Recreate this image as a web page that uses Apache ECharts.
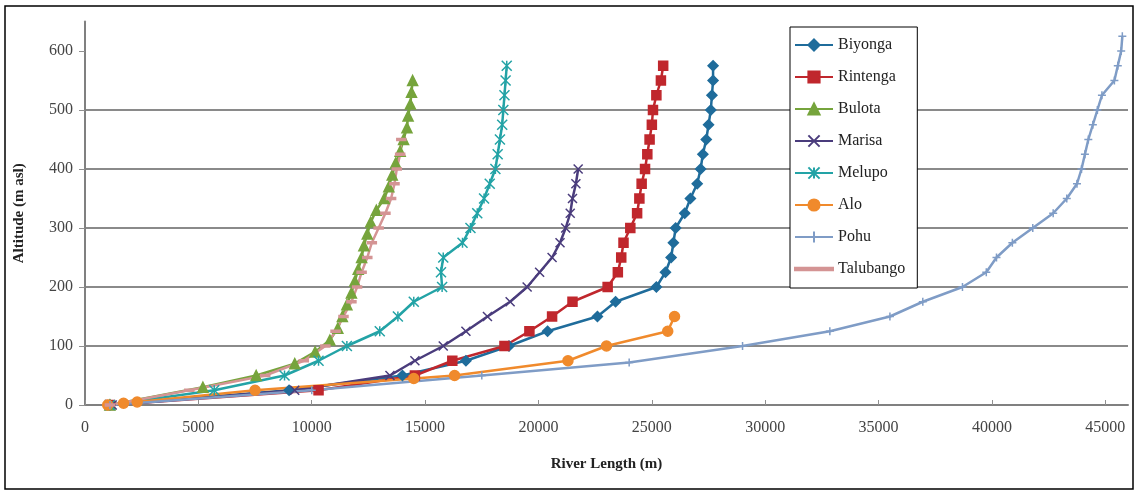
<!DOCTYPE html>
<html>
<head>
<meta charset="utf-8">
<script src="https://cdn.jsdelivr.net/npm/echarts@6/dist/echarts.min.js"></script>
<style>
html,body{margin:0;padding:0;background:#fff;}
#chart{width:1137px;height:493px;}
</style>
</head>
<body>
<div id="chart"></div>
<script>
// ---- data: [river length (m), altitude (m asl)] ----
const seriesNames = ['Biyonga','Rintenga','Bulota','Marisa','Melupo','Alo','Pohu','Talubango'];
const xTicks = [0,5000,10000,15000,20000,25000,30000,35000,40000,45000];
const yTicks = [0,100,200,300,400,500,600];

const biyonga = [[1100,0],[9000,25],[14000,50],[16800,75],[18700,100],[20400,125],[22600,150],[23400,175],[25200,200],[25600,225],[25850,250],[25950,275],[26050,300],[26450,325],[26700,350],[27000,375],[27150,400],[27250,425],[27400,450],[27500,475],[27600,500],[27650,525],[27700,550],[27700,575]];
const rintenga = [[1100,0],[10300,25],[14550,50],[16200,75],[18500,100],[19600,125],[20600,150],[21500,175],[23050,200],[23500,225],[23650,250],[23750,275],[24050,300],[24350,325],[24450,350],[24550,375],[24700,400],[24800,425],[24900,450],[25000,475],[25050,500],[25200,525],[25400,550],[25500,575]];
const bulota = [[1100,0],[5200,30],[7550,50],[9250,70],[10150,90],[10800,110],[11150,130],[11350,150],[11550,170],[11750,190],[11900,210],[12050,230],[12200,250],[12300,270],[12450,290],[12600,310],[12850,330],[13200,350],[13400,370],[13550,390],[13700,410],[13900,430],[14050,450],[14200,470],[14250,490],[14350,510],[14400,530],[14450,550]];
const marisa = [[1200,0],[9250,25],[13450,50],[14550,75],[15800,100],[16800,125],[17750,150],[18750,175],[19500,200],[20050,225],[20600,250],[20950,275],[21200,300],[21400,325],[21500,350],[21650,375],[21750,400]];
const melupo = [[1100,0],[5700,25],[8800,50],[10300,75],[11550,100],[13000,125],[13800,150],[14500,175],[15750,200],[15700,225],[15800,250],[16650,275],[17000,300],[17300,325],[17600,350],[17850,375],[18100,400],[18200,425],[18300,450],[18400,475],[18450,500],[18500,525],[18550,550],[18600,575]];
const alo = [[1000,0],[1700,3],[2300,5],[7500,25],[14500,45],[16300,50],[21300,75],[23000,100],[25700,125],[26000,150]];
const pohu = [[1100,0],[10000,25],[17500,50],[24000,72],[29000,100],[32850,125],[35500,150],[36950,175],[38700,200],[39750,225],[40200,250],[40900,275],[41800,300],[42700,325],[43300,350],[43750,375],[43950,400],[44100,425],[44250,450],[44450,475],[44650,500],[44850,525],[45400,550],[45550,575],[45700,600],[45750,625]];
const talubango = [[1100,0],[4600,25],[7950,50],[9650,75],[10600,100],[11050,125],[11400,150],[11750,175],[12000,200],[12200,225],[12450,250],[12650,275],[12950,300],[13250,325],[13500,350],[13650,375],[13750,400],[13900,425],[13950,450]];

const seriesData = [biyonga, rintenga, bulota, marisa, melupo, alo, pohu, talubango];
const colors = ['#1f6c9b','#c0272d','#76a43c','#4a3c7c','#23a3a6','#f08a2c','#7f9cc6','#d49494'];
const symbols = [
  'diamond','rect','triangle',
  'path://M0,0L10,10M10,0L0,10',
  'path://M0,0L10,10M10,0L0,10M5,0L5,10',
  'circle',
  'path://M5,0L5,10M0,5L10,5',
  'rect'
];
const symbolSizes = [10, 9, 10, 9, 10, 10, 8, [6,2]];

const FONT = '"Liberation Serif", "DejaVu Serif", serif';

const chart = echarts.init(document.getElementById('chart'), null, {renderer:'canvas'});

const series = seriesNames.map((name, i) => ({
  name: name,
  type: 'line',
  data: seriesData[i],
  symbol: symbols[i],
  symbolSize: symbolSizes[i],
  showAllSymbol: true,
  lineStyle: {color: colors[i], width: 2.5},
  itemStyle: {color: colors[i], borderColor: colors[i], borderWidth: 1.5},
  emphasis: {disabled: true},
  animation: false
}));

chart.setOption({
  animation: false,
  backgroundColor: '#fff',
  grid: {left: 85, right: 9, top: 21.5, bottom: 88, containLabel: false},
  xAxis: {
    type: 'value', min: 0, max: 46000, interval: 5000,
    name: 'River Length (m)', nameLocation: 'middle', nameGap: 52,
    nameTextStyle: {fontFamily: FONT, fontWeight: 'bold', fontSize: 15, color: '#222'},
    axisLine: {show: true, lineStyle: {color: '#808080', width: 2}},
    axisTick: {show: true, inside: true, length: 5, lineStyle: {color: '#909090', width: 1}, customValues: xTicks},
    axisLabel: {fontFamily: FONT, fontSize: 16, color: '#444', margin: 15, customValues: xTicks, formatter: v => String(v)},
    splitLine: {show: false}
  },
  yAxis: {
    type: 'value', min: 0, max: 650, interval: 100,
    name: 'Altitude (m asl)', nameLocation: 'middle', nameGap: 58, nameRotate: 90,
    nameTextStyle: {fontFamily: FONT, fontWeight: 'bold', fontSize: 15, color: '#222'},
    axisLine: {show: true, lineStyle: {color: '#808080', width: 2}},
    axisTick: {show: true, inside: false, length: 6, lineStyle: {color: '#909090', width: 1}, customValues: yTicks},
    axisLabel: {fontFamily: FONT, fontSize: 16, color: '#444', margin: 12, customValues: yTicks, formatter: v => String(v)},
    splitLine: {show: true, showMaxLine: false, lineStyle: {color: '#8a8a8a', width: 2}}
  },
  legend: {
    orient: 'vertical', left: 790, top: 27,
    padding: [10, 12, 11, 4],
    itemWidth: 38, itemHeight: 14, itemGap: 16,
    borderColor: '#000', borderWidth: 1, backgroundColor: '#fff',
    textStyle: {fontFamily: FONT, fontSize: 16, color: '#222'},
    data: seriesNames.map((n, i) => i === 7 ? {name: n, icon: 'path://M0,0H38V2.5H0Z'} : {name: n}),
    selectedMode: false
  },
  graphic: [{
    type: 'rect', silent: true, z: 100,
    shape: {x: 5, y: 6, width: 1128, height: 483},
    style: {fill: 'none', stroke: '#000', lineWidth: 1.5}
  }],
  series: series
});
</script>
</body>
</html>
